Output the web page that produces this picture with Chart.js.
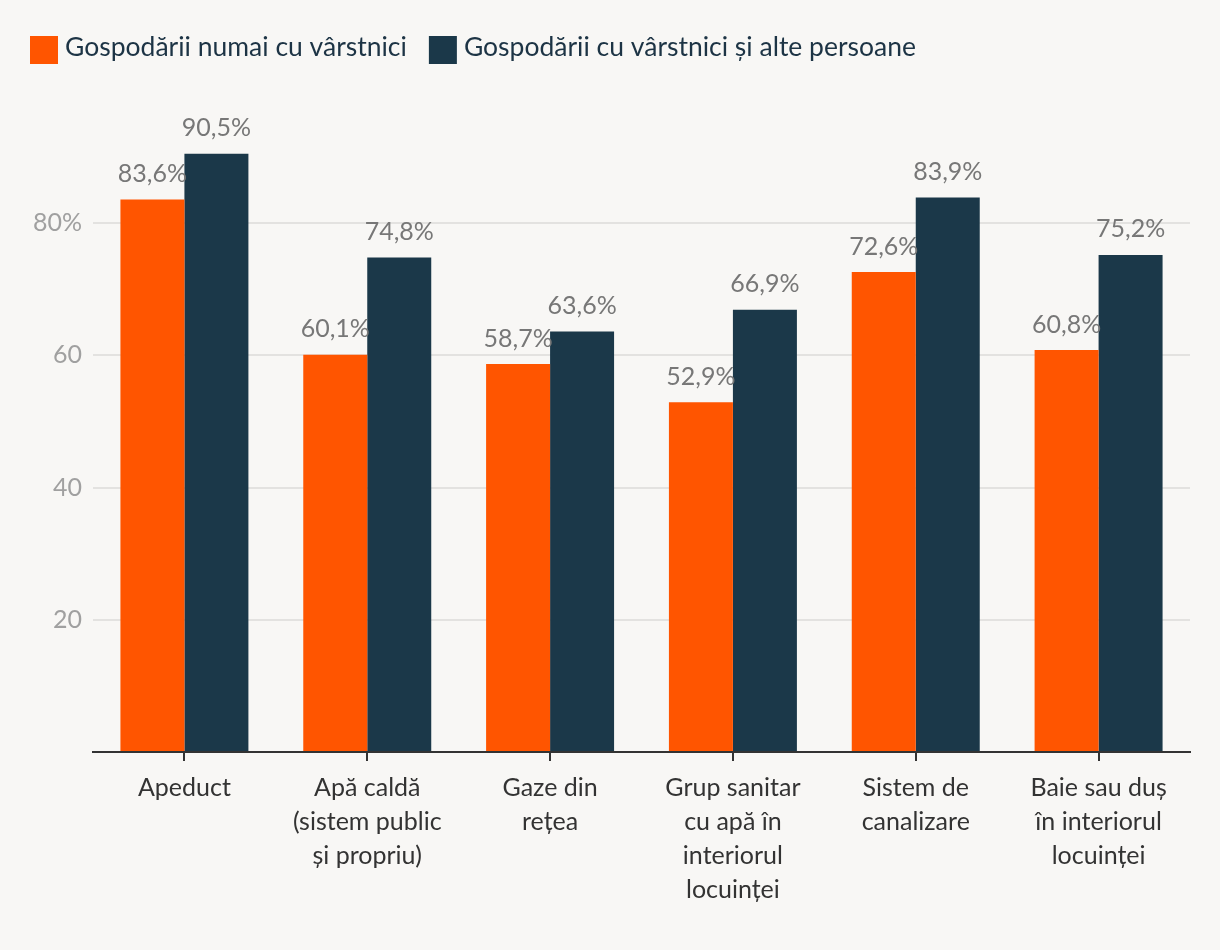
<!DOCTYPE html>
<html>
<head>
<meta charset="utf-8">
<script src="https://cdn.jsdelivr.net/npm/chart.js@4"></script>
<style>
  html, body { margin: 0; padding: 0; background: #f8f7f5; }
  canvas { display: block; }
</style>
</head>
<body>
<canvas id="chart" width="1220" height="950"></canvas>
<script>
// Categorii (etichete pe axa X, pe mai multe rânduri)
const categorii = [
    ['Apeduct'],
    ['Apă caldă', '(sistem public', 'și propriu)'],
    ['Gaze din', 'rețea'],
    ['Grup sanitar', 'cu apă în', 'interiorul', 'locuinței'],
    ['Sistem de', 'canalizare'],
    ['Baie sau duș', 'în interiorul', 'locuinței']
];
const doarVarstnici = [83.6, 60.1, 58.7, 52.9, 72.6, 60.8];
const varstniciSiAltii = [90.5, 74.8, 63.6, 66.9, 83.9, 75.2];
const ticksY = [20, 40, 60, 80];

const FONT = 'Lato, "Noto Sans", sans-serif';

// Etichete cu valori deasupra barelor
const eticheteValori = {
    id: 'eticheteValori',
    afterDatasetsDraw(chart) {
        const ctx = chart.ctx;
        ctx.save();
        ctx.font = '25px ' + FONT;
        ctx.fillStyle = '#777777';
        ctx.textAlign = 'center';
        ctx.textBaseline = 'bottom';
        chart.data.datasets.forEach((ds, i) => {
            chart.getDatasetMeta(i).data.forEach((bar, j) => {
                const txt = ds.data[j].toFixed(1).replace('.', ',') + '%';
                ctx.fillText(txt, bar.x, bar.y - 13);
            });
        });
        ctx.restore();
    }
};

// Legenda desenată manual (pătrat + text, aliniată la stânga)
const legendaSus = {
    id: 'legendaSus',
    afterDraw(chart) {
        const ctx = chart.ctx;
        ctx.save();
        ctx.font = '26.5px ' + FONT;
        ctx.textBaseline = 'alphabetic';
        ctx.textAlign = 'left';
        let x = 30;
        chart.data.datasets.forEach((ds) => {
            ctx.fillStyle = ds.backgroundColor;
            ctx.fillRect(x, 36, 28, 28);
            ctx.fillStyle = '#1d3445';
            ctx.fillText(ds.label, x + 35, 56);
            x += 35 + ctx.measureText(ds.label).width + 22;
        });
        ctx.restore();
    }
};

const ctx = document.getElementById('chart').getContext('2d');
new Chart(ctx, {
    type: 'bar',
    data: {
        labels: categorii,
        datasets: [
            {
                label: 'Gospodării numai cu vârstnici',
                data: doarVarstnici,
                backgroundColor: '#ff5500',
                categoryPercentage: 0.7,
                barPercentage: 1.0
            },
            {
                label: 'Gospodării cu vârstnici și alte persoane',
                data: varstniciSiAltii,
                backgroundColor: '#1b3849',
                categoryPercentage: 0.7,
                barPercentage: 1.0
            }
        ]
    },
    options: {
        responsive: false,
        animation: false,
        layout: {
            padding: { left: 12, right: 30, top: 91, bottom: 0 }
        },
        plugins: {
            legend: { display: false },
            tooltip: { enabled: false }
        },
        scales: {
            x: {
                grid: {
                    display: true,
                    offset: false,
                    drawOnChartArea: false,
                    drawTicks: true,
                    tickLength: 9,
                    color: '#333333',
                    lineWidth: 2
                },
                border: { color: '#333333', width: 2 },
                ticks: {
                    color: '#333333',
                    padding: 10,
                    maxRotation: 0,
                    font: { family: FONT, size: 25, lineHeight: 1.36 }
                },
                afterFit: function(scale) { scale.height = 198; }
            },
            y: {
                min: 0,
                max: 100,
                border: { display: false },
                grid: {
                    drawTicks: false,
                    lineWidth: 2,
                    color: function(c) {
                        const v = c.tick && c.tick.value;
                        return ticksY.includes(v) ? '#e3e2e0' : 'rgba(0,0,0,0)';
                    }
                },
                ticks: {
                    stepSize: 20,
                    padding: 11,
                    color: '#a0a0a0',
                    font: { family: FONT, size: 25 },
                    callback: function(value) {
                        if (!ticksY.includes(value)) return '';
                        return value === 80 ? value + '%' : value;
                    }
                },
                afterFit: function(scale) { scale.width = 81; }
            }
        }
    },
    plugins: [eticheteValori, legendaSus]
});
</script>
</body>
</html>
